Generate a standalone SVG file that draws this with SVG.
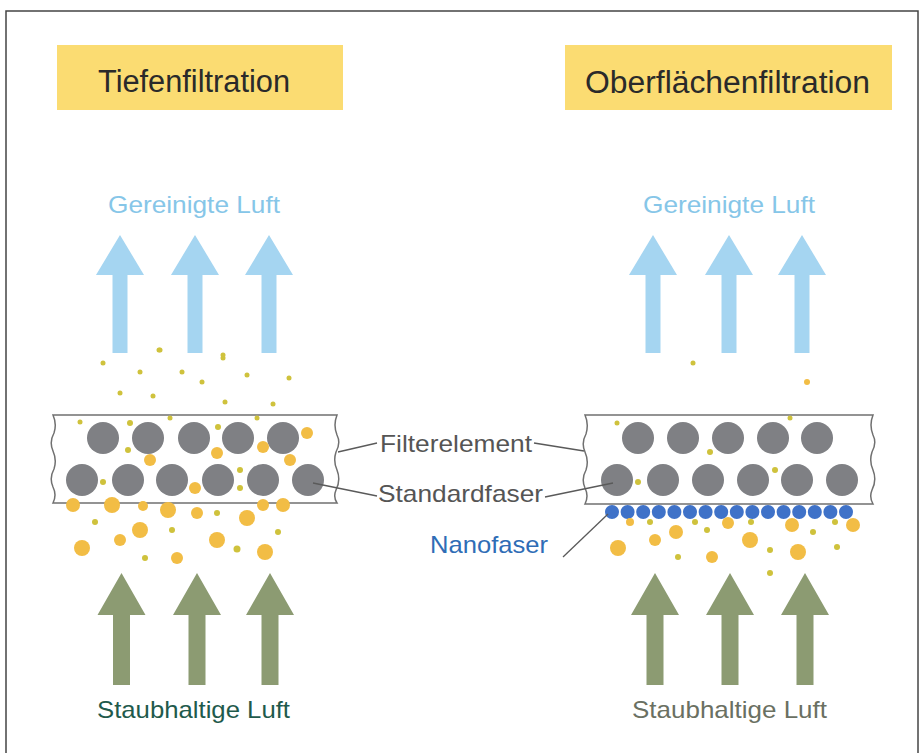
<svg xmlns="http://www.w3.org/2000/svg" width="923" height="753" viewBox="0 0 923 753">
<style>
.t{font-family:"Liberation Sans",Arial,sans-serif}
.title{font-size:31px;fill:#2a2a2a}
.blue{font-size:24px;fill:#86c6e8}
.lab{font-size:24px;fill:#555}
.fib{fill:#7f8084}
.nano{fill:#3f72c8}
.p{fill:#f2bd45}
.s{fill:#cfc23c}
.lead{stroke:#5a5a5a;stroke-width:1.3;fill:none}
.frame{fill:#fff;stroke:#707070;stroke-width:1.5}
</style>
<defs>
<path id="upA" d="M-7.5,353 V275 H-24 L0,235 L24,275 H7.5 V353 Z" fill="#a5d5f1"/>
<path id="dnA" d="M-8.5,685 V615 H-24 L0,573 L24,615 H8.5 V685 Z" fill="#8c9b72"/>
</defs>
<rect x="0" y="0" width="923" height="753" fill="#fff"/>
<rect x="6" y="11" width="912" height="760" fill="none" stroke="#444" stroke-width="1.5"/>

<g id="title-left">
<rect x="57" y="45" width="286" height="65" fill="#fbdc72"/>
<text class="t title" x="98" y="92" textLength="192" lengthAdjust="spacingAndGlyphs">Tiefenfiltration</text>
</g>
<g id="title-right">
<rect x="565" y="45" width="327" height="65" fill="#fbdc72"/>
<text class="t title" x="585" y="93" textLength="285" lengthAdjust="spacingAndGlyphs">Oberflächenfiltration</text>
</g>

<g id="clean-left">
<text class="t blue" x="108" y="213" textLength="172" lengthAdjust="spacingAndGlyphs">Gereinigte Luft</text>
<use href="#upA" transform="translate(120,0)"/>
<use href="#upA" transform="translate(195,0)"/>
<use href="#upA" transform="translate(269,0)"/>
</g>
<g id="clean-right">
<text class="t blue" x="643" y="213" textLength="172" lengthAdjust="spacingAndGlyphs">Gereinigte Luft</text>
<use href="#upA" transform="translate(653,0)"/>
<use href="#upA" transform="translate(729,0)"/>
<use href="#upA" transform="translate(802,0)"/>
</g>

<g id="dusty-left">
<use href="#dnA" transform="translate(121.5,0)"/>
<use href="#dnA" transform="translate(197,0)"/>
<use href="#dnA" transform="translate(270,0)"/>
<text class="t" x="97" y="718" font-size="24" fill="#1f5a4c" textLength="193" lengthAdjust="spacingAndGlyphs">Staubhaltige Luft</text>
</g>
<g id="dusty-right">
<use href="#dnA" transform="translate(655,0)"/>
<use href="#dnA" transform="translate(730,0)"/>
<use href="#dnA" transform="translate(805,0)"/>
<text class="t" x="632" y="718" font-size="24" fill="#6a7062" textLength="195" lengthAdjust="spacingAndGlyphs">Staubhaltige Luft</text>
</g>

<g id="filter-left">
<path class="frame" d="M53,415 H337 Q333,425 337,435 Q341,443 336,452 Q333,461 337,470 Q341,480 336,490 Q333,497 337,503 H53 Q57,495 53,487 Q49,478 54,469 Q57,460 53,451 Q49,442 54,433 Q57,424 53,415 Z"/>
<g class="fib">
<circle cx="103" cy="438" r="16"/><circle cx="148" cy="438" r="16"/><circle cx="194" cy="438" r="16"/><circle cx="238" cy="438" r="16"/><circle cx="283" cy="438" r="16"/>
<circle cx="82" cy="480" r="16"/><circle cx="128" cy="480" r="16"/><circle cx="172" cy="480" r="16"/><circle cx="218" cy="480" r="16"/><circle cx="263" cy="480" r="16"/><circle cx="308" cy="480" r="16"/>
</g>
</g>

<g id="filter-right">
<path class="frame" d="M585,415 H873 Q869,425 873,435 Q877,443 872,452 Q869,461 873,470 Q877,480 872,490 Q869,497 873,504 H585 Q589,496 585,488 Q581,479 586,470 Q589,461 585,452 Q581,443 586,434 Q589,424 585,415 Z"/>
<g class="fib">
<circle cx="638" cy="438" r="16"/><circle cx="683" cy="438" r="16"/><circle cx="728" cy="438" r="16"/><circle cx="773" cy="438" r="16"/><circle cx="817" cy="438" r="16"/>
<circle cx="617" cy="480" r="16"/><circle cx="663" cy="480" r="16"/><circle cx="708" cy="480" r="16"/><circle cx="753" cy="480" r="16"/><circle cx="797" cy="480" r="16"/><circle cx="842" cy="480" r="16"/>
</g>
<g class="nano">
<circle cx="612" cy="512" r="7"/><circle cx="627.6" cy="512" r="7"/><circle cx="643.2" cy="512" r="7"/><circle cx="658.8" cy="512" r="7"/><circle cx="674.4" cy="512" r="7"/><circle cx="690" cy="512" r="7"/><circle cx="705.6" cy="512" r="7"/><circle cx="721.2" cy="512" r="7"/><circle cx="736.8" cy="512" r="7"/><circle cx="752.4" cy="512" r="7"/><circle cx="768" cy="512" r="7"/><circle cx="783.6" cy="512" r="7"/><circle cx="799.2" cy="512" r="7"/><circle cx="814.8" cy="512" r="7"/><circle cx="830.4" cy="512" r="7"/><circle cx="846" cy="512" r="7"/>
</g>
</g>

<g id="particles-left">
<g class="s">
<circle cx="103" cy="363" r="2.5"/><circle cx="159" cy="350" r="2.5"/><circle cx="140" cy="372" r="2.5"/><circle cx="182" cy="372" r="2.5"/><circle cx="223" cy="358" r="2.5"/><circle cx="202" cy="382" r="2.5"/><circle cx="247" cy="375" r="2.5"/><circle cx="289" cy="378" r="2.5"/><circle cx="120" cy="393" r="2.5"/><circle cx="153" cy="396" r="2.5"/><circle cx="225" cy="402" r="2.5"/><circle cx="273" cy="404" r="2.5"/><circle cx="223" cy="355" r="2.5"/><circle cx="160" cy="350" r="2.5"/>
<circle cx="80" cy="422" r="2.5"/><circle cx="130" cy="423" r="3"/><circle cx="170" cy="418" r="2.5"/><circle cx="218" cy="427" r="3"/><circle cx="257" cy="418" r="2.5"/><circle cx="128" cy="450" r="3"/><circle cx="103" cy="482" r="3"/><circle cx="240" cy="470" r="3"/><circle cx="240" cy="488" r="3"/><circle cx="217" cy="513" r="3"/><circle cx="95" cy="522" r="3"/><circle cx="172" cy="530" r="3"/><circle cx="278" cy="532" r="3"/><circle cx="145" cy="558" r="3"/><circle cx="237" cy="549" r="3.5"/>
</g>
<g class="p">
<circle cx="307" cy="433" r="6"/><circle cx="263" cy="447" r="6"/><circle cx="150" cy="460" r="6"/><circle cx="217" cy="453" r="6"/><circle cx="290" cy="460" r="6"/><circle cx="195" cy="488" r="6"/>
<circle cx="73" cy="505" r="7"/><circle cx="112" cy="505" r="8"/><circle cx="143" cy="506" r="5"/><circle cx="168" cy="510" r="8"/><circle cx="197" cy="513" r="6"/><circle cx="247" cy="518" r="8"/><circle cx="263" cy="505" r="6"/><circle cx="283" cy="505" r="7"/>
<circle cx="140" cy="530" r="8"/><circle cx="217" cy="540" r="8"/><circle cx="82" cy="548" r="8"/><circle cx="120" cy="540" r="6"/><circle cx="177" cy="558" r="6"/><circle cx="265" cy="552" r="8"/>
</g>
</g>

<g id="particles-right">
<g class="s">
<circle cx="693" cy="363" r="2.5"/><circle cx="617" cy="423" r="2.5"/><circle cx="790" cy="418" r="2.5"/><circle cx="710" cy="452" r="3"/><circle cx="775" cy="470" r="3"/><circle cx="638" cy="482" r="3"/>
<circle cx="650" cy="522" r="3"/><circle cx="695" cy="522" r="3"/><circle cx="707" cy="530" r="3"/><circle cx="751" cy="522" r="3"/><circle cx="813" cy="532" r="3"/><circle cx="835" cy="522" r="3"/><circle cx="678" cy="557" r="3"/><circle cx="770" cy="550" r="3"/><circle cx="837" cy="547" r="3"/><circle cx="770" cy="573" r="3"/>
</g>
<g class="p">
<circle cx="807" cy="382" r="3"/>
<circle cx="630" cy="522" r="4"/><circle cx="676" cy="532" r="7"/><circle cx="728" cy="523" r="6"/><circle cx="750" cy="540" r="8"/><circle cx="792" cy="525" r="7"/><circle cx="853" cy="525" r="7"/><circle cx="618" cy="548" r="8"/><circle cx="655" cy="540" r="6"/><circle cx="712" cy="557" r="6"/><circle cx="798" cy="552" r="8"/>
</g>
</g>

<g id="connectors">
<path class="lead" d="M338,452 L377,443"/>
<path class="lead" d="M534,443 L584,451"/>
<path class="lead" d="M313,483 L377,496"/>
<path class="lead" d="M545,497 L613,483"/>
<path class="lead" d="M563,557 L608,514"/>
</g>

<g id="labels">
<text class="t lab" x="380" y="452" textLength="152" lengthAdjust="spacingAndGlyphs">Filterelement</text>
<text class="t lab" x="378" y="502" textLength="165" lengthAdjust="spacingAndGlyphs">Standardfaser</text>
<text class="t" x="430" y="553" font-size="24" fill="#2f6db6" textLength="118" lengthAdjust="spacingAndGlyphs">Nanofaser</text>
</g>
</svg>
